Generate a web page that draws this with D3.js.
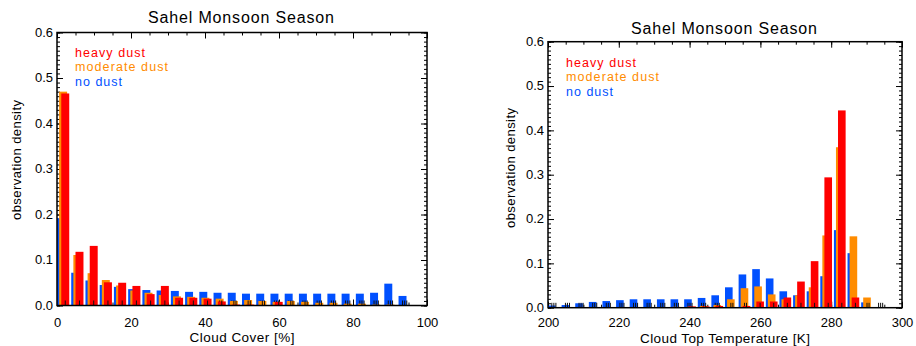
<!DOCTYPE html>
<html><head><meta charset="utf-8">
<script src="https://cdn.jsdelivr.net/npm/d3@7/dist/d3.min.js"></script>
<style>
body{margin:0;background:#fff}
svg{display:block}
text{font-family:"Liberation Sans",Arial,sans-serif}
</style>
</head><body>
<svg id="chart" width="916" height="346"></svg>
<script>
// ---------------- data ----------------
const chartTitle = "Sahel Monsoon Season";
const yTitle = "observation density";
const seriesNames = ["no dust", "moderate dust", "heavy dust"];        // drawing order
const legendOrder = ["heavy dust", "moderate dust", "no dust"];
const seriesColors = ["#0050ff", "#ff8c00", "#ff0000"];
const yTickValues = [0.0, 0.1, 0.2, 0.3, 0.4, 0.5, 0.6];
const nBins = 26;
const errTick = 0.011;   // height of the small black marker drawn at each bar

// Cloud cover panel
const ccTitle = "Cloud Cover [%]";
const ccDomain = [0, 100];
const ccTickValues = [0, 20, 40, 60, 80, 100];
const ccNoDust   = [0.192,0.072,0.055,0.045,0.041,0.036,0.034,0.033,0.032,0.030,0.030,0.028,0.028,0.026,0.026,0.026,0.026,0.026,0.026,0.026,0.026,0.026,0.028,0.048,0.021,null];
const ccModerate = [0.470,0.111,0.071,0.056,0.044,0.033,0.028,0.023,0.020,0.019,0.017,0.015,0.010,0.012,0.010,0.008,0.010,0.008,0.006,0.006,0.004,0.004,0.002,0.002,0.001,null];
const ccHeavy    = [0.466,0.118,0.131,0.051,0.050,0.043,0.025,0.043,0.017,0.017,0.015,0.009,0.002,0.002,0.001,0.008,0.001,0.001,0.001,0.000,0.000,0.000,0.000,0.000,0.000,null];

// Cloud top temperature panel
const ctTitle = "Cloud Top Temperature [K]";
const ctDomain = [200, 300];
const ctTickValues = [200, 220, 240, 260, 280, 300];
const ctNoDust   = [0.005,0.006,0.010,0.013,0.015,0.017,0.019,0.019,0.019,0.019,0.019,0.022,0.028,0.046,0.075,0.087,0.066,0.037,0.028,0.037,0.071,0.175,0.123,0.012,0.000,null];
const ctModerate = [0.000,0.000,0.000,0.000,0.001,0.001,0.001,0.001,0.001,0.002,0.002,0.004,0.006,0.019,0.044,0.048,0.030,0.019,0.028,0.046,0.163,0.362,0.161,0.023,0.000,null];
const ctHeavy    = [0.000,0.000,0.000,0.000,0.000,0.000,0.000,0.000,0.000,0.001,0.003,0.003,0.004,0.000,0.004,0.014,0.014,0.023,0.059,0.105,0.294,0.445,0.023,0.000,0.000,null];

// ---------------- drawing ----------------
const svg = d3.select("#chart");

function panel(cfg) {
  const x = d3.scaleLinear().domain(cfg.domain).range([cfg.left, cfg.right]);
  const y = d3.scaleLinear().domain([0, 0.6]).range([cfg.bottom, cfg.top]);
  const g = svg.append("g");
  const yMinor = d3.range(0, 61).map(i => i / 100);
  const xStep = 5;
  const xMinor = d3.range(cfg.domain[0], cfg.domain[1] + 0.001, xStep);

  const style = sel => { sel.select(".domain").remove(); sel.selectAll("line").attr("stroke", "#000").attr("stroke-width", 1); };

  // y axes (left with labels, right mirrored)
  g.append("g").attr("transform", `translate(${cfg.left},0)`)
    .call(d3.axisLeft(y).tickValues(yMinor).tickSize(-3).tickFormat("")).call(style);
  g.append("g").attr("transform", `translate(${cfg.left},0)`)
    .call(d3.axisLeft(y).tickValues(yTickValues).tickSize(-6).tickPadding(4).tickFormat(d3.format(".1f")))
    .call(style)
    .selectAll("text").attr("font-size", 13).attr("fill", "#000").attr("dy", "0.3em");
  g.append("g").attr("transform", `translate(${cfg.right},0)`)
    .call(d3.axisRight(y).tickValues(yMinor).tickSize(-3).tickFormat("")).call(style);
  g.append("g").attr("transform", `translate(${cfg.right},0)`)
    .call(d3.axisRight(y).tickValues(yTickValues).tickSize(-6).tickFormat("")).call(style);

  // x axes
  g.append("g").attr("transform", `translate(0,${cfg.bottom})`)
    .call(d3.axisBottom(x).tickValues(xMinor).tickSize(-3).tickFormat("")).call(style);
  g.append("g").attr("transform", `translate(0,${cfg.bottom})`)
    .call(d3.axisBottom(x).tickValues(cfg.ticks).tickSize(-6).tickPadding(cfg.xPad).tickFormat(d3.format("d")))
    .call(style)
    .selectAll("text").attr("font-size", 13).attr("fill", "#000");
  g.append("g").attr("transform", `translate(0,${cfg.top})`)
    .call(d3.axisTop(x).tickValues(xMinor).tickSize(-3).tickFormat("")).call(style);
  g.append("g").attr("transform", `translate(0,${cfg.top})`)
    .call(d3.axisTop(x).tickValues(cfg.ticks).tickSize(-6).tickFormat("")).call(style);

  // bars
  const binW = (cfg.domain[1] - cfg.domain[0]) / nBins;
  const binStarts = d3.range(nBins).map(i => cfg.domain[0] + i * binW);
  const offsets = [0, 0.15, 0.30];
  const barFrac = 0.56;
  cfg.series.forEach((vals, si) => {
    const rows = vals.map((v, i) => ({v, x0: binStarts[i]})).filter(d => d.v !== null);
    const bx = d => x(d.x0 + offsets[si] * binW);
    const bw = x(cfg.domain[0] + barFrac * binW) - x(cfg.domain[0]);
    g.append("g").selectAll("rect").data(rows.filter(d => d.v > 0)).join("rect")
      .attr("x", bx).attr("width", bw)
      .attr("y", d => y(d.v)).attr("height", d => y(0) - y(d.v))
      .attr("fill", seriesColors[si]);
    g.append("g").selectAll("line").data(rows).join("line")
      .attr("x1", d => bx(d) + bw / 2).attr("x2", d => bx(d) + bw / 2)
      .attr("y1", y(0)).attr("y2", y(errTick))
      .attr("stroke", "#111").attr("stroke-width", 1);
  });

  // frame
  g.append("rect").attr("x", cfg.left).attr("y", cfg.top)
    .attr("width", cfg.right - cfg.left).attr("height", cfg.bottom - cfg.top)
    .attr("fill", "none").attr("stroke", "#000").attr("stroke-width", 1.5);

  // titles
  g.append("text").attr("x", (cfg.left + cfg.right) / 2 - 1).attr("y", cfg.titleY)
    .attr("text-anchor", "middle").attr("font-size", 16).attr("fill", "#000")
    .attr("textLength", 186).attr("lengthAdjust", "spacing").text(chartTitle);
  g.append("text").attr("x", (cfg.left + cfg.right) / 2).attr("y", cfg.xTitleY)
    .attr("text-anchor", "middle").attr("font-size", 13.5).attr("fill", "#000")
    .attr("textLength", cfg.xTitleLen).attr("lengthAdjust", "spacing").text(cfg.xTitle);
  g.append("text").attr("transform", `translate(${cfg.yTitleX},${cfg.yTitleCY}) rotate(-90)`)
    .attr("text-anchor", "middle").attr("font-size", 13).attr("fill", "#000")
    .attr("textLength", 120).attr("lengthAdjust", "spacing").text(yTitle);

  // legend
  const legLen = {"heavy dust": 70, "moderate dust": 93, "no dust": 47};
  legendOrder.forEach((name, i) => {
    g.append("text").attr("x", cfg.left + 18).attr("y", cfg.legendY + i * 14.3)
      .attr("font-size", 12.5).attr("fill", seriesColors[seriesNames.indexOf(name)])
      .attr("textLength", legLen[name]).attr("lengthAdjust", "spacing").text(name);
  });
}

panel({
  domain: ccDomain, ticks: ccTickValues, series: [ccNoDust, ccModerate, ccHeavy],
  left: 57, right: 427, top: 32.5, bottom: 305.5, xPad: 12,
  titleY: 23, xTitle: ccTitle, xTitleY: 341.5, xTitleLen: 105,
  yTitleX: 21, yTitleCY: 160, legendY: 57
});
panel({
  domain: ctDomain, ticks: ctTickValues, series: [ctNoDust, ctModerate, ctHeavy],
  left: 548, right: 902, top: 41.7, bottom: 307.7, xPad: 10,
  titleY: 33.5, xTitle: ctTitle, xTitleY: 342.5, xTitleLen: 170,
  yTitleX: 515, yTitleCY: 168, legendY: 67
});
</script>
</body></html>
